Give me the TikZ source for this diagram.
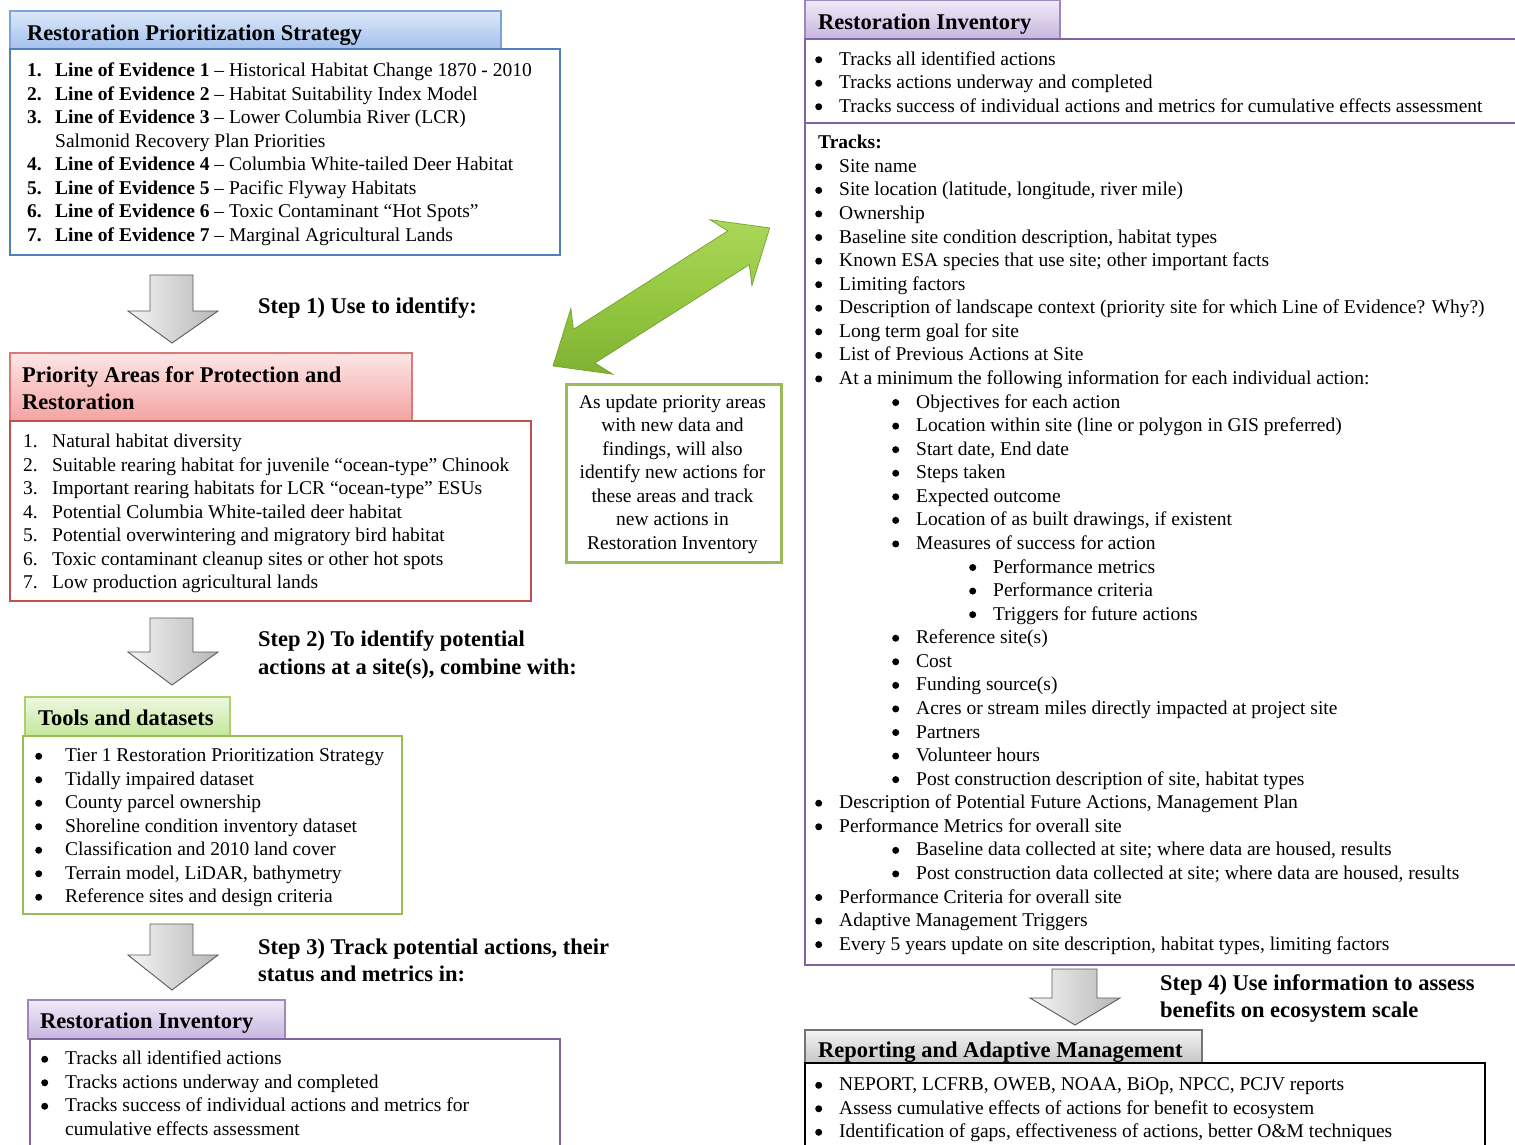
\documentclass[tikz,border=0pt]{standalone}
\usepackage{fontspec}
\setmainfont{Liberation Serif}
\definecolor{bluebd}{HTML}{4F81BD}
\definecolor{bluetabbd}{HTML}{7EA3DA}
\definecolor{bluetop}{HTML}{DDE8F8}
\definecolor{bluebot}{HTML}{A3C1EE}
\definecolor{redbd}{HTML}{C0504D}
\definecolor{redtabbd}{HTML}{DA7A77}
\definecolor{redtop}{HTML}{FDE6E6}
\definecolor{redbot}{HTML}{F3A3A2}
\definecolor{greenbd}{HTML}{9BBB59}
\definecolor{greentabbd}{HTML}{A9D26E}
\definecolor{greentop}{HTML}{EEF8E1}
\definecolor{greenbot}{HTML}{C3E69A}
\definecolor{purbd}{HTML}{8064A2}
\definecolor{purtabbd}{HTML}{9E86BE}
\definecolor{purtop}{HTML}{F0EAF7}
\definecolor{purbot}{HTML}{C8B6DF}
\definecolor{graytop}{HTML}{F4F4F4}
\definecolor{graybot}{HTML}{C6C6C6}
\definecolor{arrowA}{HTML}{ABD65A}
\definecolor{arrowB}{HTML}{95C840}
\definecolor{arrowC}{HTML}{80B232}
\definecolor{arrowbd}{HTML}{74A22C}
\newcommand{\bltdot}{\raisebox{2.0pt}{\tikz\fill (0,0) circle (3.5pt);}}
\newcommand{\blt}[2][23pt]{\makebox[#1][l]{\bltdot}#2}
\begin{document}
\begin{tikzpicture}[x=1pt,y=-1pt,
  bodytxt/.style={font=\fontsize{19.5}{23.5}\selectfont, anchor=west, inner sep=0pt, text height=15.5pt, text depth=2pt},
  hdrtxt/.style={font=\fontsize{22.5}{27.5}\selectfont\bfseries, anchor=west, inner sep=0pt, text height=17.5pt, text depth=3pt},
  steptxt/.style={font=\fontsize{22.5}{27.5}\selectfont\bfseries, anchor=west, inner sep=0pt, align=left},
  blockarrow/.style={draw=black!65, line width=0.9pt, shading angle=135, left color=graytop, right color=black!28},
  bodybox/.style={line width=2.6pt},
  tabbox/.style={line width=1.3pt}
]
\useasboundingbox (0,0) rectangle (1515,1144);
\clip (0,0) rectangle (1515,1144);

% ---------- Restoration Prioritization Strategy ----------
\path[tabbox, draw=bluetabbd, top color=bluetop, bottom color=bluebot] (10,11) rectangle (501,49);
\path[bodybox, draw=bluebd, fill=white] (10,49) rectangle (560,255);
\node[hdrtxt] (rpsh) at (27,33) {Restoration Prioritization Strategy};
\node[bodytxt] (rps1) at (27,70) {\makebox[28pt][l]{\textbf{1.}}\textbf{Line of Evidence 1} – Historical Habitat Change 1870 - 2010};
\node[bodytxt] (rps2) at (27,93.5) {\makebox[28pt][l]{\textbf{2.}}\textbf{Line of Evidence 2} – Habitat Suitability Index Model};
\node[bodytxt] (rps3) at (27,117) {\makebox[28pt][l]{\textbf{3.}}\textbf{Line of Evidence 3} – Lower Columbia River (LCR)};
\node[bodytxt] (rps3b) at (55,140.5) {Salmonid Recovery Plan Priorities};
\node[bodytxt] (rps4) at (27,164) {\makebox[28pt][l]{\textbf{4.}}\textbf{Line of Evidence 4} – Columbia White-tailed Deer Habitat};
\node[bodytxt] (rps5) at (27,187.5) {\makebox[28pt][l]{\textbf{5.}}\textbf{Line of Evidence 5} – Pacific Flyway Habitats};
\node[bodytxt] (rps6) at (27,211) {\makebox[28pt][l]{\textbf{6.}}\textbf{Line of Evidence 6} – Toxic Contaminant “Hot Spots”};
\node[bodytxt] (rps7) at (27,234.5) {\makebox[28pt][l]{\textbf{7.}}\textbf{Line of Evidence 7} – Marginal Agricultural Lands};

% ---------- Step 1 ----------
\path[blockarrow] (150,275) -- (193,275) -- (193,311) -- (218,311) -- (172,343) -- (128,311) -- (150,311) -- cycle;
\node[steptxt] (step1) at (258,308) {Step 1) Use to identify:};

% ---------- Priority Areas ----------
\path[tabbox, draw=redtabbd, top color=redtop, bottom color=redbot] (10,353) rectangle (412,421);
\path[bodybox, draw=redbd, fill=white] (10,421) rectangle (531,601);
\node[hdrtxt] (pah1) at (22,375) {Priority Areas for Protection and};
\node[hdrtxt] (pah2) at (22,402) {Restoration};
\foreach \tx [count=\i] in {Natural habitat diversity,
  Suitable rearing habitat for juvenile “ocean-type” Chinook,
  Important rearing habitats for LCR “ocean-type” ESUs,
  Potential Columbia White-tailed deer habitat,
  Potential overwintering and migratory bird habitat,
  Toxic contaminant cleanup sites or other hot spots,
  Low production agricultural lands}{
  \node[bodytxt] (pa\i) at (23,{441+23.5*(\i-1)}) {\makebox[29pt][l]{\i.}\tx};
}

% ---------- Green double arrow ----------
\begin{scope}[shift={(553,366)}, rotate=32.5]
\path[draw=arrowbd, line width=0.7pt, top color=arrowA, bottom color=arrowC, middle color=arrowB]
  (0,0) -- (46,-39) -- (37,-20) -- (220,-20) -- (211,-39) -- (257,0) -- (211,39) -- (220,20) -- (37,20) -- (46,39) -- cycle;
\end{scope}

% ---------- Green note ----------
\node[draw=greenbd, line width=2.6pt, fill=white, minimum width=215pt, minimum height=178pt, inner sep=0pt,
  anchor=north west] (notebox) at (565,383) {};
\node[font=\fontsize{19.5}{23.5}\selectfont, align=center, inner sep=0pt] (note) at (672.5,474)
  {As update priority areas\\with new data and\\findings, will also\\identify new actions for\\these areas and track\\new actions in\\Restoration Inventory};

% ---------- Step 2 ----------
\path[blockarrow] (150,618) -- (193,618) -- (193,652) -- (218,652) -- (172,685) -- (128,652) -- (150,652) -- cycle;
\node[steptxt] (step2) at (258,655) {Step 2) To identify potential\\actions at a site(s), combine with:};

% ---------- Tools and datasets ----------
\path[tabbox, draw=greentabbd, top color=greentop, bottom color=greenbot] (25,697) rectangle (230,736);
\path[bodybox, draw=greenbd, fill=white] (23,736) rectangle (402,914);
\node[hdrtxt] (tdh) at (38,718) {Tools and datasets};
\foreach \tx [count=\i] in {Tier 1 Restoration Prioritization Strategy,
  Tidally impaired dataset,
  County parcel ownership,
  Shoreline condition inventory dataset,
  Classification and 2010 land cover,
  {Terrain model, LiDAR, bathymetry},
  Reference sites and design criteria}{
  \node[bodytxt] (td\i) at (35,{755+23.5*(\i-1)}) {\blt[30pt]{\tx}};
}

% ---------- Step 3 ----------
\path[blockarrow] (150,924) -- (193,924) -- (193,955) -- (218,955) -- (172,990) -- (128,955) -- (150,955) -- cycle;
\node[steptxt] (step3) at (258,960.5) {Step 3) Track potential actions, their\\status and metrics in:};

% ---------- Restoration Inventory (left) ----------
\path[tabbox, draw=purtabbd, top color=purtop, bottom color=purbot] (28,1000) rectangle (285,1039);
\path[bodybox, draw=purbd, fill=white] (30,1039) rectangle (560,1160);
\node[hdrtxt] (rilh) at (40,1021) {Restoration Inventory};
\node[bodytxt] (ril1) at (41,1058) {\blt[24pt]{Tracks all identified actions}};
\node[bodytxt] (ril2) at (41,1081.5) {\blt[24pt]{Tracks actions underway and completed}};
\node[bodytxt] (ril3) at (41,1105) {\blt[24pt]{Tracks success of individual actions and metrics for}};
\node[bodytxt] (ril3b) at (65,1128.5) {cumulative effects assessment};

% ---------- Restoration Inventory (right) ----------
\path[tabbox, draw=purtabbd, top color=purtop, bottom color=purbot] (805,0) rectangle (1060,39);
\path[bodybox, draw=purbd, fill=white] (805,39) rectangle (1530,123);
\path[bodybox, draw=purbd, fill=white] (805,123) rectangle (1530,965);
\node[hdrtxt] (rirh) at (818,22) {Restoration Inventory};
\node[bodytxt] (rir1) at (815,58.5) {\blt[24pt]{Tracks all identified actions}};
\node[bodytxt] (rir2) at (815,82) {\blt[24pt]{Tracks actions underway and completed}};
\node[bodytxt] (rir3) at (815,105.5) {\blt[24pt]{Tracks success of individual actions and metrics for cumulative effects assessment}};

\foreach \lv/\tx [count=\i from 0] in {
  0/{\textbf{Tracks:}},
  1/{Site name},
  1/{Site location (latitude, longitude, river mile)},
  1/{Ownership},
  1/{Baseline site condition description, habitat types},
  1/{Known ESA species that use site; other important facts},
  1/{Limiting factors},
  1/{Description of landscape context (priority site for which Line of Evidence? Why?)},
  1/{Long term goal for site},
  1/{List of Previous Actions at Site},
  1/{At a minimum the following information for each individual action:},
  2/{Objectives for each action},
  2/{Location within site (line or polygon in GIS preferred)},
  2/{Start date, End date},
  2/{Steps taken},
  2/{Expected outcome},
  2/{Location of as built drawings, if existent},
  2/{Measures of success for action},
  3/{Performance metrics},
  3/{Performance criteria},
  3/{Triggers for future actions},
  2/{Reference site(s)},
  2/{Cost},
  2/{Funding source(s)},
  2/{Acres or stream miles directly impacted at project site},
  2/{Partners},
  2/{Volunteer hours},
  2/{Post construction description of site, habitat types},
  1/{Description of Potential Future Actions, Management Plan},
  1/{Performance Metrics for overall site},
  2/{Baseline data collected at site; where data are housed, results},
  2/{Post construction data collected at site; where data are housed, results},
  1/{Performance Criteria for overall site},
  1/{Adaptive Management Triggers},
  1/{Every 5 years update on site description, habitat types, limiting factors}}{
  \ifnum\lv=0
    \node[bodytxt] (trk\i) at (818,{142+23.57*\i}) {\tx};
  \else
    \node[bodytxt] (trk\i) at ({815+77*(\lv-1)},{142+23.57*\i}) {\blt[24pt]{\tx}};
  \fi
}

% ---------- Step 4 ----------
\path[blockarrow] (1052,969) -- (1097,969) -- (1097,998) -- (1120,998) -- (1075,1025) -- (1030,998) -- (1052,998) -- cycle;
\node[steptxt] (step4) at (1160,998.5) {Step 4) Use information to assess\\benefits on ecosystem scale};

% ---------- Reporting and Adaptive Management ----------
\path[tabbox, draw=black!55, top color=graytop, bottom color=graybot] (805,1030) rectangle (1202,1063);
\path[bodybox, draw=black, fill=white] (805,1063) rectangle (1485,1160);
\node[hdrtxt] (ramh) at (818,1050) {Reporting and Adaptive Management};
\node[bodytxt] (ram1) at (815,1084) {\blt[24pt]{NEPORT, LCFRB, OWEB, NOAA, BiOp, NPCC, PCJV reports}};
\node[bodytxt] (ram2) at (815,1107.5) {\blt[24pt]{Assess cumulative effects of actions for benefit to ecosystem}};
\node[bodytxt] (ram3) at (815,1131) {\blt[24pt]{Identification of gaps, effectiveness of actions, better O\&M techniques}};
\end{tikzpicture}
\end{document}
